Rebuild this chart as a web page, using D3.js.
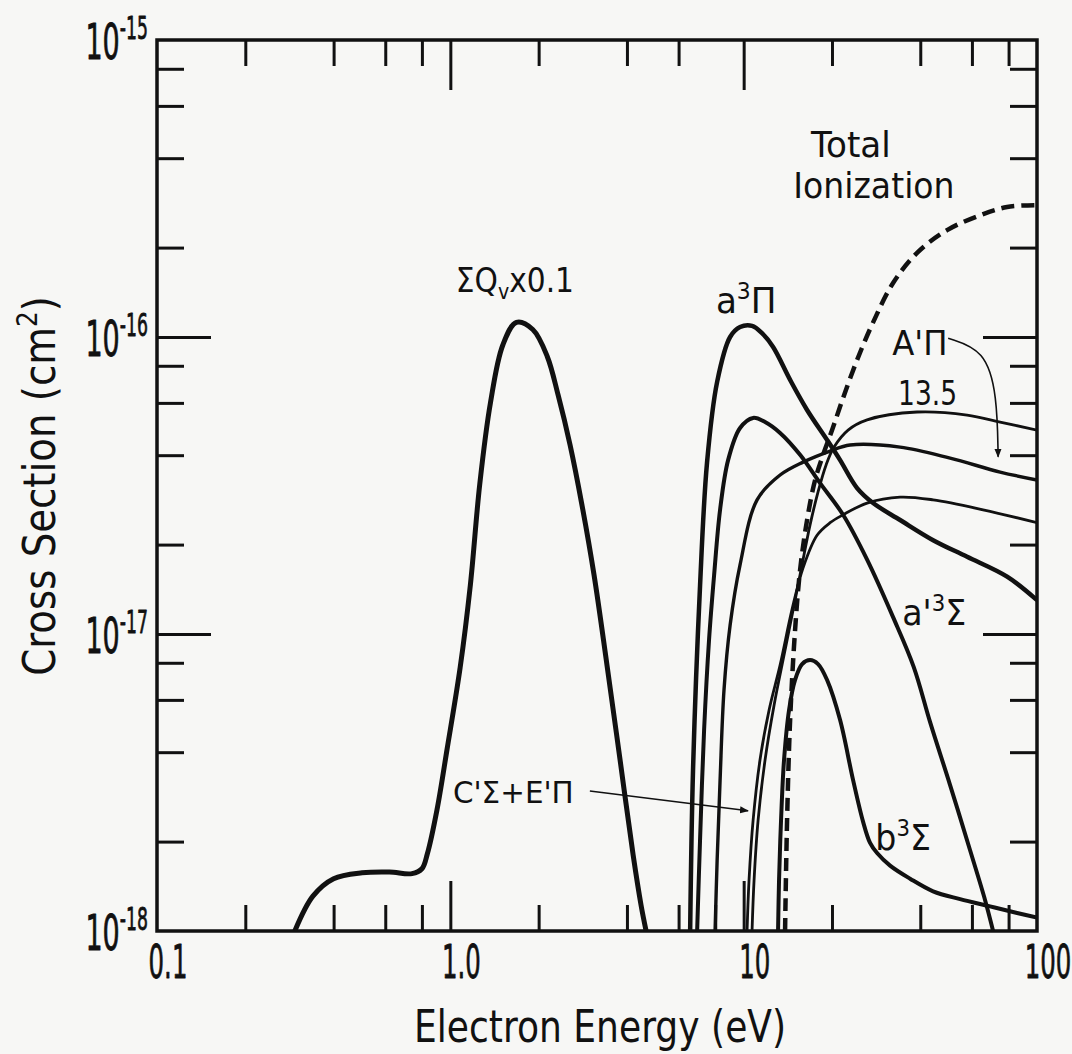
<!DOCTYPE html>
<html><head><meta charset="utf-8">
<script src="https://cdn.jsdelivr.net/npm/d3@7"></script>
<style>
body{margin:0;background:#f7f7f5}
svg{display:block}
text{font-family:"DejaVu Sans",sans-serif;fill:#111}
</style>
</head><body>
<svg id="chart" width="1072" height="1054"></svg>
<script>
// ---------------- data (energy in eV, cross section in cm^2) ----------------
const xTickValues = [0.1, 1, 10, 100];
const xTickLabels = ["0.1", "1.0", "10", "100"];
const yTickValues = [1e-15, 1e-16, 1e-17, 1e-18];
const yTickExponents = ["-15", "-16", "-17", "-18"];
const xMinorTicks = [0.2, 0.4, 0.6, 0.8, 2, 4, 6, 8, 20, 40, 60, 80];
const xMajorTicks = [1, 10];
const yMinorTicks = [2e-18, 4e-18, 6e-18, 8e-18, 2e-17, 4e-17, 6e-17, 8e-17, 2e-16, 4e-16, 6e-16, 8e-16];
const yMajorTicks = [1e-17, 1e-16];

const sumQvE = [0.295, 0.34, 0.40, 0.50, 0.62, 0.74, 0.80, 0.835, 0.90, 0.975, 1.08, 1.17, 1.26, 1.37, 1.51, 1.68, 1.91, 2.14, 2.33, 2.56, 2.81, 3.09, 3.42, 3.79, 4.20, 4.47, 4.65];
const sumQvQ = [1.0e-18, 1.31e-18, 1.50e-18, 1.57e-18, 1.58e-18, 1.56e-18, 1.62e-18, 1.82e-18, 2.55e-18, 4.1e-18, 7.7e-18, 1.46e-17, 3.2e-17, 6.0e-17, 9.4e-17, 1.12e-16, 1.06e-16, 8.6e-17, 6.38e-17, 4.33e-17, 2.72e-17, 1.58e-17, 7.86e-18, 3.77e-18, 1.80e-18, 1.22e-18, 1.0e-18];

const a3PiE = [6.57, 6.72, 7.10, 7.50, 8.12, 8.99, 9.72, 10.68, 11.55, 12.60, 14.40, 16.45, 19.25, 21.32, 24.36, 27.62, 34.14, 44.24, 57.77, 79.08, 100];
const a3PiQ = [1.0e-18, 3.48e-18, 1.45e-17, 3.77e-17, 7.06e-17, 1.0e-16, 1.08e-16, 1.09e-16, 1.03e-16, 9.25e-17, 7.17e-17, 5.68e-17, 4.50e-17, 3.85e-17, 3.10e-17, 2.76e-17, 2.42e-17, 2.07e-17, 1.82e-17, 1.56e-17, 1.30e-17];

const ap3SigE = [6.94, 7.10, 7.33, 7.62, 7.93, 8.31, 8.85, 9.72, 10.77, 11.83, 13.31, 15.57, 18.22, 21.82, 26.35, 32.31, 38.01, 43.21, 50.55, 59.14, 66.54, 70.85];
const ap3SigQ = [1.0e-18, 2.02e-18, 4.75e-18, 9.55e-18, 1.58e-17, 2.62e-17, 3.85e-17, 4.94e-17, 5.34e-17, 5.17e-17, 4.75e-17, 4.01e-17, 3.22e-17, 2.52e-17, 1.78e-17, 1.14e-17, 7.74e-18, 5.05e-18, 3.10e-18, 1.87e-18, 1.27e-18, 1.0e-18];

const A1PiE = [7.99, 8.12, 8.31, 8.57, 8.99, 9.72, 11.11, 13.31, 15.94, 19.71, 23.06, 34.14, 50.55, 74.86, 100];
const A1PiQ = [1.0e-18, 1.73e-18, 3.22e-18, 6.48e-18, 1.07e-17, 1.71e-17, 2.83e-17, 3.43e-17, 3.79e-17, 4.13e-17, 4.33e-17, 4.26e-17, 3.91e-17, 3.51e-17, 3.30e-17];

const s135E = [10.68, 10.85, 11.20, 11.83, 12.70, 13.84, 14.97, 15.94, 16.84, 17.93, 19.10, 20.33, 22.70, 26.35, 39.01, 57.77, 74.86, 100];
const s135Q = [1.0e-18, 1.48e-18, 2.36e-18, 3.77e-18, 5.77e-18, 8.83e-18, 1.30e-17, 1.78e-17, 2.33e-17, 3.01e-17, 3.71e-17, 4.26e-17, 4.86e-17, 5.26e-17, 5.59e-17, 5.46e-17, 5.17e-17, 4.86e-17];

const cePiE = [10.27, 10.43, 10.77, 11.37, 12.21, 13.31, 14.62, 15.94, 17.79, 19.71, 21.82, 26.35, 34.14, 44.24, 65.50, 100];
const cePiQ = [1.0e-18, 1.48e-18, 2.36e-18, 3.77e-18, 5.55e-18, 7.86e-18, 1.21e-17, 1.67e-17, 2.15e-17, 2.37e-17, 2.52e-17, 2.76e-17, 2.89e-17, 2.83e-17, 2.62e-17, 2.37e-17];

const b3SigE = [13.10, 13.20, 13.41, 13.73, 14.28, 14.97, 15.82, 16.84, 17.93, 19.25, 21.32, 23.61, 25.54, 26.97, 28.50, 31.56, 36.93, 44.24, 54.68, 69.20, 85.55, 100];
const b3SigQ = [1.0e-18, 1.48e-18, 2.36e-18, 3.77e-18, 5.55e-18, 7.00e-18, 7.92e-18, 8.17e-18, 7.92e-18, 7.00e-18, 5.13e-18, 3.22e-18, 2.33e-18, 1.98e-18, 1.83e-18, 1.66e-18, 1.50e-18, 1.36e-18, 1.28e-18, 1.21e-18, 1.15e-18, 1.11e-18];

const ionE = [13.84, 14.06, 14.40, 14.97, 15.57, 16.45, 17.52, 18.65, 20.02, 21.82, 24.36, 27.62, 32.31, 39.01, 49.38, 63.97, 79.08, 100];
const ionQ = [1.0e-18, 2.36e-18, 5.13e-18, 1.03e-17, 1.64e-17, 2.42e-17, 3.30e-17, 4.01e-17, 4.86e-17, 6.23e-17, 8.37e-17, 1.12e-16, 1.52e-16, 1.92e-16, 2.29e-16, 2.57e-16, 2.74e-16, 2.78e-16];

// ---------------- layout ----------------
const svg = d3.select("#chart");
svg.append("rect").attr("width",1072).attr("height",1054).attr("fill","#f7f7f5");
const x = d3.scaleLog().domain([0.1, 100]).range([157, 1037]);
const y = d3.scaleLog().domain([1e-18, 1e-15]).range([931, 40]);
const INK = "#111";

svg.append("clipPath").attr("id","plotClip").append("rect")
  .attr("x", x(0.1)).attr("y", y(1e-15)).attr("width", x(100)-x(0.1)).attr("height", y(1e-18)-y(1e-15));

function axisStyle(g){
  g.select(".domain").remove();
  g.selectAll(".tick line").attr("stroke", INK).attr("stroke-width", 3);
  g.selectAll(".tick text").remove();
}
const X0 = x.range()[0], X1 = x.range()[1], Y0 = y.range()[0], Y1 = y.range()[1];
svg.append("g").attr("transform",`translate(0,${Y0})`).call(d3.axisBottom(x).tickValues(xMinorTicks).tickSize(-26).tickSizeOuter(0)).call(axisStyle);
svg.append("g").attr("transform",`translate(0,${Y0})`).call(d3.axisBottom(x).tickValues(xMajorTicks).tickSize(-50).tickSizeOuter(0)).call(axisStyle);
svg.append("g").attr("transform",`translate(0,${Y1})`).call(d3.axisTop(x).tickValues(xMinorTicks.filter(v => v !== 8)).tickSize(-26).tickSizeOuter(0)).call(axisStyle);
svg.append("g").attr("transform",`translate(0,${Y1})`).call(d3.axisTop(x).tickValues(xMajorTicks).tickSize(-50).tickSizeOuter(0)).call(axisStyle);
svg.append("g").attr("transform",`translate(${X0},0)`).call(d3.axisLeft(y).tickValues(yMinorTicks).tickSize(-27).tickSizeOuter(0)).call(axisStyle);
svg.append("g").attr("transform",`translate(${X0},0)`).call(d3.axisLeft(y).tickValues(yMajorTicks).tickSize(-54).tickSizeOuter(0)).call(axisStyle);
svg.append("g").attr("transform",`translate(${X1},0)`).call(d3.axisRight(y).tickValues(yMinorTicks).tickSize(-27).tickSizeOuter(0)).call(axisStyle);
svg.append("g").attr("transform",`translate(${X1},0)`).call(d3.axisRight(y).tickValues(yMajorTicks).tickSize(-54).tickSizeOuter(0)).call(axisStyle);

svg.append("rect").attr("x",X0).attr("y",Y1).attr("width",X1-X0).attr("height",Y0-Y1)
  .attr("fill","none").attr("stroke",INK).attr("stroke-width",3.5);

function richText(parent, px, py, segs, size, sx, anchor, rotate, bold){
  const t = parent.append("text")
    .attr("transform", `translate(${px},${py})` + (rotate ? ` rotate(${rotate})` : "") + ` scale(${sx},1)`)
    .attr("text-anchor", anchor || "start").style("font-size", size + "px");
  if (bold) t.attr("stroke", INK).attr("stroke-width", bold).attr("stroke-linejoin","round");
  let shift = 0;
  segs.forEach(s => {
    const target = s.sup ? -size*0.40 : (s.sub ? size*0.22 : 0);
    const ts = t.append("tspan").text(s.t).attr("dy", target - shift);
    if (s.sup || s.sub) ts.style("font-size", (size*0.64) + "px");
    shift = target;
  });
  return t;
}

// tick labels
xTickValues.forEach((v,i) => richText(svg, x(v)+11, 978, [{t:xTickLabels[i]}], 47, 0.52, "middle", null, 0.8));
yTickValues.forEach((v,i) => richText(svg, 148, y(v)+19, [{t:"10"},{t:yTickExponents[i], sup:true}], 50, 0.54, "end", null, 0.8));

// axis titles
richText(svg, 600, 1042, [{t:"Electron Energy (eV)"}], 44, 0.82, "middle");
richText(svg, 55, 486, [{t:"Cross Section (cm"},{t:"2",sup:true},{t:")"}], 44, 0.88, "middle", -90);

// curves
const plot = svg.append("g").attr("clip-path","url(#plotClip)");
const line = d3.line().x(d => x(d[0])).y(d => y(d[1])).curve(d3.curveCatmullRom.alpha(0.5));
const series = [
  {e: sumQvE, q: sumQvQ, w: 5},
  {e: a3PiE, q: a3PiQ, w: 4.5},
  {e: ap3SigE, q: ap3SigQ, w: 4},
  {e: A1PiE, q: A1PiQ, w: 3.4},
  {e: s135E, q: s135Q, w: 2.8},
  {e: cePiE, q: cePiQ, w: 2.8},
  {e: b3SigE, q: b3SigQ, w: 4},
  {e: ionE, q: ionQ, w: 4.5, dash: "13,7"}
];
series.forEach(s => {
  plot.append("path").datum(s.e.map((v,i) => [v, s.q[i]]))
    .attr("d", line).attr("fill","none").attr("stroke",INK)
    .attr("stroke-width", s.w).attr("stroke-linejoin","round")
    .attr("stroke-dasharray", s.dash || null);
});

// labels inside plot (positions in data units)
const lab = svg.append("g");
richText(lab, x(1.66), y(1.42e-16), [{t:"ΣQ"},{t:"v",sub:true},{t:"x0.1"}], 33, 0.9, "middle");
richText(lab, x(10.2), y(1.2e-16), [{t:"a"},{t:"3",sup:true},{t:"Π"}], 36, 0.95, "middle");
richText(lab, x(23.2), y(4.04e-16), [{t:"Total"}], 36, 0.95, "middle");
richText(lab, x(27.8), y(2.94e-16), [{t:"Ionization"}], 36, 0.92, "middle");
richText(lab, x(32.1), y(8.7e-17), [{t:"A'Π"}], 34, 0.95, "start");
richText(lab, x(33.6), y(5.9e-17), [{t:"13.5"}], 34, 0.78, "start");
richText(lab, x(34.7), y(1.072e-17), [{t:"a'"},{t:"3",sup:true},{t:"Σ"}], 35, 0.95, "start");
richText(lab, x(28.1), y(1.874e-18), [{t:"b"},{t:"3",sup:true},{t:"Σ"}], 35, 0.95, "start");
richText(lab, x(1.021), y(2.70e-18), [{t:"C'Σ+E'Π"}], 31, 0.95, "start");

// leader arrows (data units)
const arrowA = [[49.8, 9.9e-17], [66.5, 9.04e-17], [73.1, 6.38e-17], [73.7, 3.95e-17]];
const arrowCE = [[2.99, 2.96e-18], [10.35, 2.54e-18]];
const defs = svg.append("defs");
defs.append("marker").attr("id","ah").attr("viewBox","0 0 10 10").attr("refX",9).attr("refY",5)
  .attr("markerWidth",9).attr("markerHeight",9).attr("markerUnits","userSpaceOnUse").attr("orient","auto")
  .append("path").attr("d","M0,1 L10,5 L0,9 Z").attr("fill",INK);
const aPath = d3.line().x(d => x(d[0])).y(d => y(d[1])).curve(d3.curveBasis);
svg.append("path").attr("d", aPath(arrowA)).attr("fill","none").attr("stroke",INK).attr("stroke-width",1.6).attr("marker-end","url(#ah)");
svg.append("path").attr("d", d3.line().x(d => x(d[0])).y(d => y(d[1]))(arrowCE)).attr("fill","none").attr("stroke",INK).attr("stroke-width",1.6).attr("marker-end","url(#ah)");
</script>
</body></html>
